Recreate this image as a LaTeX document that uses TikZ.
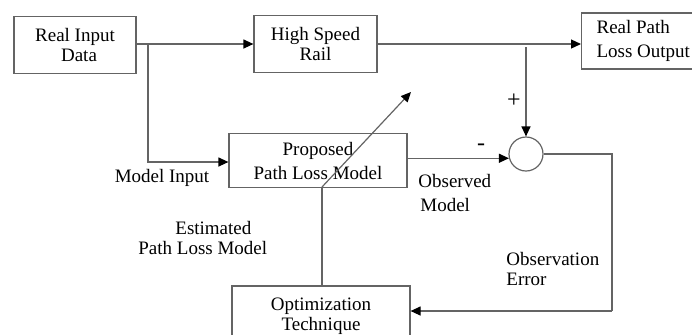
\documentclass[tikz,border=0pt]{standalone}
\usepackage{fontspec}
\setmainfont{Liberation Serif}
\usetikzlibrary{arrows.meta}
\definecolor{linegray}{RGB}{100,100,100}
\tikzset{
  box/.style={draw=linegray, line width=0.6pt, rectangle, inner sep=0pt, align=center,
              font=\fontsize{9.5}{10}\selectfont},
  lbl/.style={inner sep=0pt, font=\fontsize{9.5}{10}\selectfont},
  conn/.style={draw=linegray, line width=0.6pt},
  arr/.style={conn, -{Triangle[length=5pt,width=4.5pt,color=black]}},
}
\begin{document}
\begin{tikzpicture}[x=0.5pt,y=-0.5pt]
\useasboundingbox (0,0) rectangle (692,334);
% boxes
\node[box, minimum width=61pt, minimum height=28.5pt] (rid) at (75,45) {Real Input\\\hspace*{4pt}Data};
\node[box, minimum width=61.5pt, minimum height=28.5pt] (hsr) at (315.5,44) {High Speed\\Rail};
\node[box, anchor=west, minimum height=28pt, text width=60pt, inner xsep=7.5pt, align=flush left] (rplo) at (581,41) {Real Path\\[2pt]Loss Output};
\node[box, minimum width=89pt, minimum height=27pt] (ppl) at (318,160.5) {Proposed\\[2pt]Path Loss Model};
\node[box, minimum width=89pt, minimum height=30pt] (opt) at (321,316) {Optimization\\Technique};
\node[draw=linegray, line width=0.6pt, circle, minimum size=17pt, inner sep=0pt] (sum) at (526,154) {};
% coordinates
\coordinate (br) at (148,44);
\coordinate (tap) at (526,47);
\coordinate (eb) at (612,311);
\coordinate (fb) at (322,187);
\coordinate (tip) at (411,92);
% connectors
\draw[arr] (rid.east |- br) -- (hsr.west |- br);
\draw[arr] (br) |- (ppl.west |- 0,162);
\draw[arr] (hsr.east |- br) -- (rplo.west |- br);
\draw[arr] (tap) -- (sum.north);
\draw[arr] (sum.194 -| ppl.east) -- (sum.194);
\draw[conn] (sum.east) -| (eb);
\draw[arr] (eb) -- (eb -| opt.east);
\draw[conn] (opt.north -| fb) -- (fb);
\draw[arr] (fb) -- (tip);
% labels
\node[lbl, font=\fontsize{12}{12}\selectfont] (plus) at (514,101) {+};
\node[lbl, font=\fontsize{12}{12}\selectfont] (minus) at (481,147) {-};
\node[lbl] (mi) at (162,178) {Model Input};
\node[lbl, anchor=west, align=left] (om) at (418,193) {Observed\\[2pt]\hspace*{1pt}Model};
\node[lbl, anchor=west, align=left] (epl) at (138,238) {\hspace*{18.5pt}Estimated\\Path Loss Model};
\node[lbl, anchor=west, align=left] (oe) at (506,268.5) {Observation\\Error};
\end{tikzpicture}
\end{document}
